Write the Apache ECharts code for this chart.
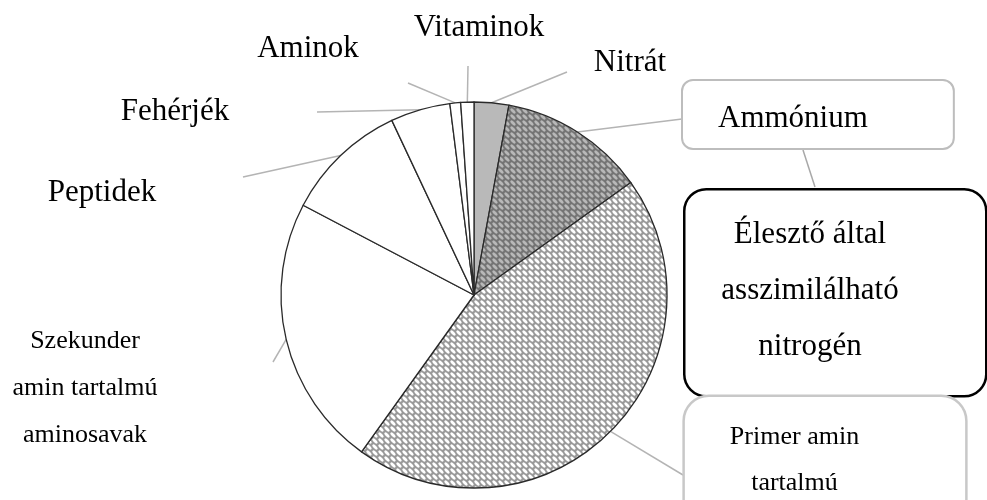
<!DOCTYPE html>
<html>
<head>
<meta charset="utf-8">
<script src="https://cdn.jsdelivr.net/npm/echarts@6/dist/echarts.min.js"></script>
<style>
html, body { margin: 0; padding: 0; background: #fff; }
#main { width: 987px; height: 500px; }
</style>
</head>
<body>
<div id="main"></div>
<script>
// slices, clockwise from 12 o'clock
var categories = ['Nitrát', 'Ammónium', 'Primer amin\ntartalmú\naminosavak', 'Szekunder\namin tartalmú\naminosavak',
    'Peptidek', 'Fehérjék', 'Aminok', 'Vitaminok'];
var shares = [2.9, 12.2, 44.8, 22.8, 10.3, 5.0, 0.9, 1.1];
var calloutLines = ['Élesztő által', 'asszimilálható', 'nitrogén'];

// where each label goes and where its leader line stops
var labelPos = [
    { x: 630, y: 63, end: [567, 72] },
    { x: 683, y: 81, end: [682, 119], align: 'left', vAlign: 'top' },
    { x: 825, y: 397, end: [683, 475], vAlign: 'top' },
    { x: 85, y: 388, end: [273, 362] },
    { x: 102, y: 193, end: [243, 177] },
    { x: 175, y: 112, end: [317, 112] },
    { x: 308, y: 49, end: [408, 83] },
    { x: 479, y: 28, end: [468, 66] }
];

function makePattern(bg, fg) {
    var c = document.createElement('canvas');
    c.width = 6;
    c.height = 6;
    var ctx = c.getContext('2d');
    ctx.fillStyle = bg;
    ctx.fillRect(0, 0, 6, 6);
    ctx.fillStyle = fg;
    ctx.beginPath();
    ctx.ellipse(3, 3, 3.3, 1.5, Math.PI / 4, 0, Math.PI * 2);
    ctx.fill();
    return { image: c, repeat: 'repeat' };
}

var fills = ['#b9b9b9', makePattern('#747474', '#b8b8b8'), makePattern('#999999', '#ffffff'),
    '#fff', '#fff', '#fff', '#fff', '#fff'];

var labelStyles = [
    {},
    { backgroundColor: '#fff', borderColor: '#bdbdbd', borderWidth: 2, borderRadius: 10, padding: [22, 85, 14, 35], lineHeight: 31 },
    { fontSize: 26, lineHeight: 46, backgroundColor: '#fff', borderColor: '#c8c8c8', borderWidth: 2.5, borderRadius: 24, padding: [17, 106, 20, 45] },
    { fontSize: 26, lineHeight: 47 },
    {}, {}, {}, {}
];

var data = categories.map(function (name, i) {
    return { name: name, value: shares[i], itemStyle: { color: fills[i] }, label: labelStyles[i] };
});

var myChart = echarts.init(document.getElementById('main'));

var option = {
    backgroundColor: '#fff',
    animation: false,
    series: [{
        type: 'pie',
        center: [474, 295],
        radius: 193,
        startAngle: 90,
        clockwise: true,
        avoidLabelOverlap: false,
        data: data,
        itemStyle: { borderColor: '#2a2a2a', borderWidth: 1.3 },
        label: {
            show: true,
            position: 'outside',
            formatter: '{b}',
            fontFamily: 'Liberation Serif',
            fontSize: 31,
            color: '#000'
        },
        labelLine: {
            show: true,
            length: 20,
            length2: 0,
            lineStyle: { color: '#b4b4b4', width: 1.5 }
        },
        labelLayout: function (p) {
            var pos = labelPos[p.dataIndex];
            var start = p.labelLinePoints ? p.labelLinePoints[0] : pos.end;
            return {
                x: pos.x,
                y: pos.y,
                align: pos.align || 'center',
                verticalAlign: pos.vAlign || 'middle',
                labelLinePoints: [start, pos.end, pos.end]
            };
        }
    }],
    graphic: [
        {
            type: 'line',
            shape: { x1: 803, y1: 150, x2: 815, y2: 187 },
            style: { stroke: '#a8a8a8', lineWidth: 1.5 }
        },
        {
            type: 'rect',
            left: 683,
            top: 188,
            shape: { width: 302, height: 207, r: 22 },
            style: { fill: '#fff', stroke: '#000', lineWidth: 2.5 }
        },
        {
            type: 'text',
            x: 810,
            y: 291,
            style: {
                text: calloutLines.join('\n'),
                font: '31px "Liberation Serif"',
                fill: '#000',
                align: 'center',
                verticalAlign: 'middle',
                textAlign: 'center',
                textVerticalAlign: 'middle',
                lineHeight: 56
            }
        }
    ]
};
myChart.setOption(option);
</script>
</body>
</html>
